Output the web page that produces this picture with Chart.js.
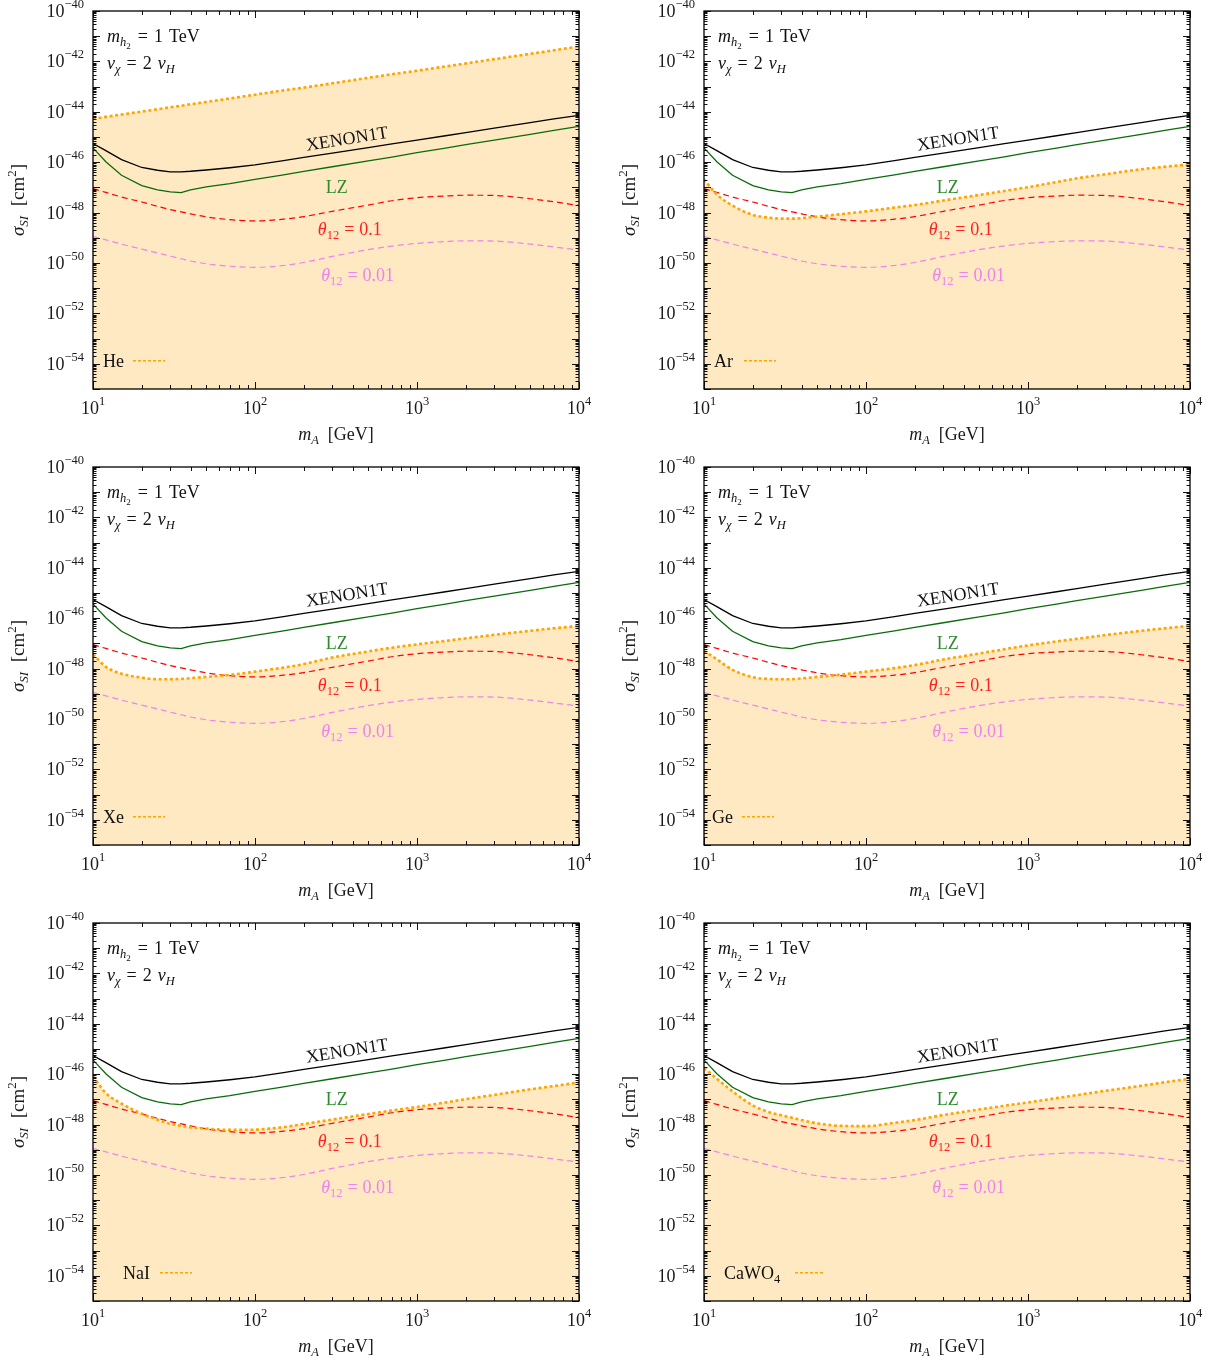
<!DOCTYPE html>
<html><head><meta charset="utf-8">
<script src="https://cdn.jsdelivr.net/npm/chart.js@4.4.1/dist/chart.umd.min.js"></script>
<style>
html,body{margin:0;padding:0;background:#fff;overflow:hidden;}
#wrap{position:relative;width:1215px;height:1364px;overflow:hidden;}
canvas.panel{position:absolute;}
</style></head><body><div id="wrap"></div>
<script>
// ---- data (y values are log10 of sigma_SI in cm^2) ----
const massGeV   = [10, 12, 15, 20, 25, 30, 35, 40, 50, 70, 100, 150, 200, 300, 500, 700, 1000, 1500, 2000, 3000, 5000, 7000, 10000];
const xenon1t   = [-45.26,-45.54,-45.90,-46.21,-46.32,-46.38,-46.38,-46.36,-46.31,-46.22,-46.11,-45.94,-45.81,-45.64,-45.42,-45.27,-45.12,-44.95,-44.83,-44.65,-44.43,-44.28,-44.14];
const lz        = [-45.43,-45.98,-46.52,-46.93,-47.10,-47.18,-47.21,-47.10,-46.98,-46.85,-46.68,-46.50,-46.36,-46.18,-45.95,-45.80,-45.62,-45.44,-45.30,-45.12,-44.90,-44.74,-44.58];
const theta01   = [-47.05,-47.20,-47.38,-47.58,-47.75,-47.88,-47.97,-48.05,-48.17,-48.28,-48.33,-48.26,-48.16,-47.95,-47.70,-47.53,-47.41,-47.34,-47.31,-47.32,-47.45,-47.57,-47.72];
const theta001  = [-48.95,-49.08,-49.25,-49.45,-49.60,-49.73,-49.83,-49.92,-50.03,-50.13,-50.17,-50.10,-49.98,-49.74,-49.47,-49.33,-49.22,-49.15,-49.12,-49.13,-49.25,-49.36,-49.49];
const targetHe    = [-44.28,-44.20,-44.11,-43.99,-43.90,-43.82,-43.76,-43.70,-43.61,-43.47,-43.32,-43.15,-43.04,-42.87,-42.65,-42.51,-42.37,-42.20,-42.08,-41.91,-41.70,-41.56,-41.41];
const targetAr    = [-46.68,-47.28,-47.72,-48.09,-48.20,-48.24,-48.24,-48.22,-48.16,-48.06,-47.95,-47.80,-47.70,-47.52,-47.30,-47.15,-46.99,-46.79,-46.64,-46.48,-46.28,-46.18,-46.09];
const targetXe    = [-47.43,-47.93,-48.20,-48.36,-48.42,-48.42,-48.41,-48.38,-48.33,-48.25,-48.12,-47.96,-47.82,-47.56,-47.32,-47.17,-47.04,-46.90,-46.80,-46.66,-46.50,-46.40,-46.31];
const targetGe    = [-47.30,-47.63,-48.05,-48.34,-48.41,-48.42,-48.42,-48.39,-48.33,-48.24,-48.12,-47.98,-47.86,-47.64,-47.40,-47.24,-47.08,-46.92,-46.82,-46.67,-46.50,-46.40,-46.30];
const targetNaI   = [-46.08,-46.75,-47.17,-47.57,-47.80,-47.97,-48.05,-48.11,-48.16,-48.21,-48.20,-48.10,-47.98,-47.80,-47.58,-47.44,-47.30,-47.12,-46.99,-46.82,-46.60,-46.47,-46.33];
const targetCaWO4 = [-45.75,-46.18,-46.68,-47.24,-47.50,-47.63,-47.73,-47.82,-47.95,-48.05,-48.06,-47.93,-47.82,-47.62,-47.40,-47.26,-47.12,-46.95,-46.83,-46.66,-46.46,-46.32,-46.18];
const targetNames = [["He"],["Ar"],["Xe"],["Ge"],["NaI"],["CaWO","4"]];
const xTickValues = [10, 100, 1000, 10000];
const xTickExps   = ["1","2","3","4"];
const yTickExps   = [-40,-42,-44,-46,-48,-50,-52,-54];

const targets = [targetHe, targetAr, targetXe, targetGe, targetNaI, targetCaWO4];
const legendX = [103, 103, 103, 101, 123, 113];
const legendLine = [[133,165],[133,165],[133,165],[131,163],[160,192],[184,214]];

const SERIF = '"Liberation Serif","DejaVu Serif",serif';
function fontOf(s){ return (s.it?'italic ':'') + (s.size||17) + 'px ' + SERIF; }
function rich(ctx, x, y, segs, align){
  let w = 0;
  for (const s of segs){ ctx.font = fontOf(s); w += ctx.measureText(s.t).width + (s.gap||0); }
  let cx = align==='center' ? x - w/2 : align==='right' ? x - w : x;
  ctx.textAlign = 'left'; ctx.textBaseline = 'alphabetic';
  for (const s of segs){ ctx.font = fontOf(s); ctx.fillText(s.t, cx, y + (s.dy||0)); cx += ctx.measureText(s.t).width + (s.gap||0); }
}
function pts(vals){ return massGeV.map((m,i)=>({x:m, y:vals[i]})); }

const decor = {
  id:'decor',
  afterDraw(chart){
    const {ctx, chartArea:a, scales:{x, y}} = chart;
    const idx = chart.options.plugins.decor.idx;
    ctx.save();
    ctx.strokeStyle = '#111'; ctx.lineWidth = 1;
    const seg = (x1,y1,x2,y2)=>{ ctx.beginPath(); ctx.moveTo(x1,y1); ctx.lineTo(x2,y2); ctx.stroke(); };
    // x ticks
    for (let d=1; d<=4; d++){
      for (let k=1; k<=9; k++){
        const v = k*Math.pow(10,d); if (v>10000) break;
        const px = Math.round(x.getPixelForValue(v))+0.5;
        const len = k===1 ? 7 : 4;
        seg(px, a.bottom, px, a.bottom-len); seg(px, a.top, px, a.top+len);
      }
    }
    // y ticks
    for (let e=-55; e<-40+1; e++){
      for (let k=1; k<=9; k++){
        const v = e + Math.log10(k); if (v>-40) break;
        const py = Math.round(y.getPixelForValue(v))+0.5;
        const len = k===1 ? 7 : 3.5;
        seg(a.left, py, a.left+len, py); seg(a.right, py, a.right-len, py);
      }
    }
    // frame
    ctx.lineWidth = 1.3; ctx.strokeStyle = '#000';
    ctx.strokeRect(a.left, a.top, a.right-a.left, a.bottom-a.top);
    ctx.fillStyle = '#1a1a1a';
    // y tick labels
    for (const e of yTickExps){
      const py = y.getPixelForValue(e);
      rich(ctx, a.left-9, py+6, [{t:'10', size:18},{t:'\u2212'+Math.abs(e), size:12.5, dy:-9}], 'right');
    }
    // x tick labels
    xTickValues.forEach((v,i)=>{
      const px = x.getPixelForValue(v);
      rich(ctx, px, a.bottom+25, [{t:'10', size:18},{t:xTickExps[i], size:12.5, dy:-9}], 'center');
    });
    // axis titles
    rich(ctx, (a.left+a.right)/2, a.bottom+51, [{t:'m',it:true,size:18},{t:'A',it:true,size:12.5,dy:4},{t:'  [GeV]',size:18}], 'center');
    ctx.save();
    ctx.translate(24, (a.top+a.bottom)/2); ctx.rotate(-Math.PI/2);
    rich(ctx, 0, 0, [{t:'\u03C3',it:true,size:19},{t:'SI',it:true,size:13,dy:4},{t:'  [cm',size:19},{t:'2',size:13,dy:-8},{t:']',size:19}], 'center');
    ctx.restore();
    // annotations
    ctx.fillStyle = '#111';
    rich(ctx, a.left+14, a.top+31, [{t:'m',it:true,size:18},{t:'h',it:true,size:12.5,dy:4},{t:'2',size:9,dy:7,gap:7},{t:'=',size:18,gap:6},{t:'1',size:18,gap:6},{t:'TeV',size:18}], 'left');
    rich(ctx, a.left+14, a.top+58, [{t:'v',it:true,size:18},{t:'\u03C7',it:true,size:12.5,dy:4,gap:6},{t:'=',size:18,gap:6},{t:'2',size:18,gap:6},{t:'v',it:true,size:18},{t:'H',it:true,size:12.5,dy:4}], 'left');
    ctx.save();
    ctx.translate(x.getPixelForValue(370), y.getPixelForValue(-45.05)); ctx.rotate(-9*Math.PI/180);
    ctx.fillStyle = '#111';
    rich(ctx, 0, 6, [{t:'XENON1T', size:18}], 'center');
    ctx.restore();
    ctx.fillStyle = '#2e8b2e';
    rich(ctx, x.getPixelForValue(320), y.getPixelForValue(-46.99)+6, [{t:'LZ', size:18}], 'center');
    ctx.fillStyle = '#ff2020';
    rich(ctx, x.getPixelForValue(385), y.getPixelForValue(-48.65)+6, [{t:'\u03B8',it:true,size:18},{t:'12',size:12.5,dy:4,gap:5},{t:'=',size:18,gap:5},{t:'0.1',size:18}], 'center');
    ctx.fillStyle = '#ee82ee';
    rich(ctx, x.getPixelForValue(430), y.getPixelForValue(-50.48)+6, [{t:'\u03B8',it:true,size:18},{t:'12',size:12.5,dy:4,gap:5},{t:'=',size:18,gap:5},{t:'0.01',size:18}], 'center');
    // legend
    const ly = y.getPixelForValue(-53.88);
    ctx.fillStyle = '#111';
    const nm = targetNames[idx];
    const segs = [{t:nm[0], size:18}];
    if (nm[1]) segs.push({t:nm[1], size:12.5, dy:4});
    rich(ctx, legendX[idx], ly+6, segs, 'left');
    ctx.strokeStyle = '#ffa500'; ctx.lineWidth = 1.6; ctx.setLineDash([3,2]);
    seg(legendLine[idx][0], ly, legendLine[idx][1], ly);
    ctx.restore();
  }
};

const wrap = document.getElementById('wrap');
targets.forEach((vals, i)=>{
  const col = i%2, row = Math.floor(i/2);
  const cv = document.createElement('canvas');
  cv.className = 'panel';
  cv.width = 600; cv.height = 456;
  cv.style.left = (col*611)+'px'; cv.style.top = (row*456)+'px';
  cv.style.width = '600px'; cv.style.height = '456px';
  wrap.appendChild(cv);
  new Chart(cv, {
    type:'line',
    data:{ datasets:[
      {label:targetNames[i].join(''), data:pts(vals), borderColor:'#ffa500', borderWidth:2.6, borderDash:[3,2.6],
       fill:'start', backgroundColor:'rgb(254,233,194)', cubicInterpolationMode:'monotone', pointRadius:0},
      {label:'XENON1T', data:pts(xenon1t), borderColor:'#000', borderWidth:1.3, fill:false, tension:0, pointRadius:0},
      {label:'LZ', data:pts(lz), borderColor:'#0b6b0b', borderWidth:1.3, fill:false, tension:0, pointRadius:0},
      {label:'theta=0.1', data:pts(theta01), borderColor:'#ff0000', borderWidth:1.2, borderDash:[6,4], fill:false, cubicInterpolationMode:'monotone', pointRadius:0},
      {label:'theta=0.01', data:pts(theta001), borderColor:'#ee82ee', borderWidth:1.2, borderDash:[6,4], fill:false, cubicInterpolationMode:'monotone', pointRadius:0}
    ]},
    options:{
      responsive:false, animation:false, devicePixelRatio:1,
      layout:{padding:{left:93, top:11, right:21, bottom:67}},
      scales:{
        x:{type:'logarithmic', min:10, max:10000, display:false},
        y:{type:'linear', min:-55, max:-40, display:false}
      },
      plugins:{legend:{display:false}, tooltip:{enabled:false}, filler:{drawTime:'beforeDatasetsDraw'}, decor:{idx:i}},
      elements:{point:{radius:0}}
    },
    plugins:[decor]
  });
});
</script></body></html>
